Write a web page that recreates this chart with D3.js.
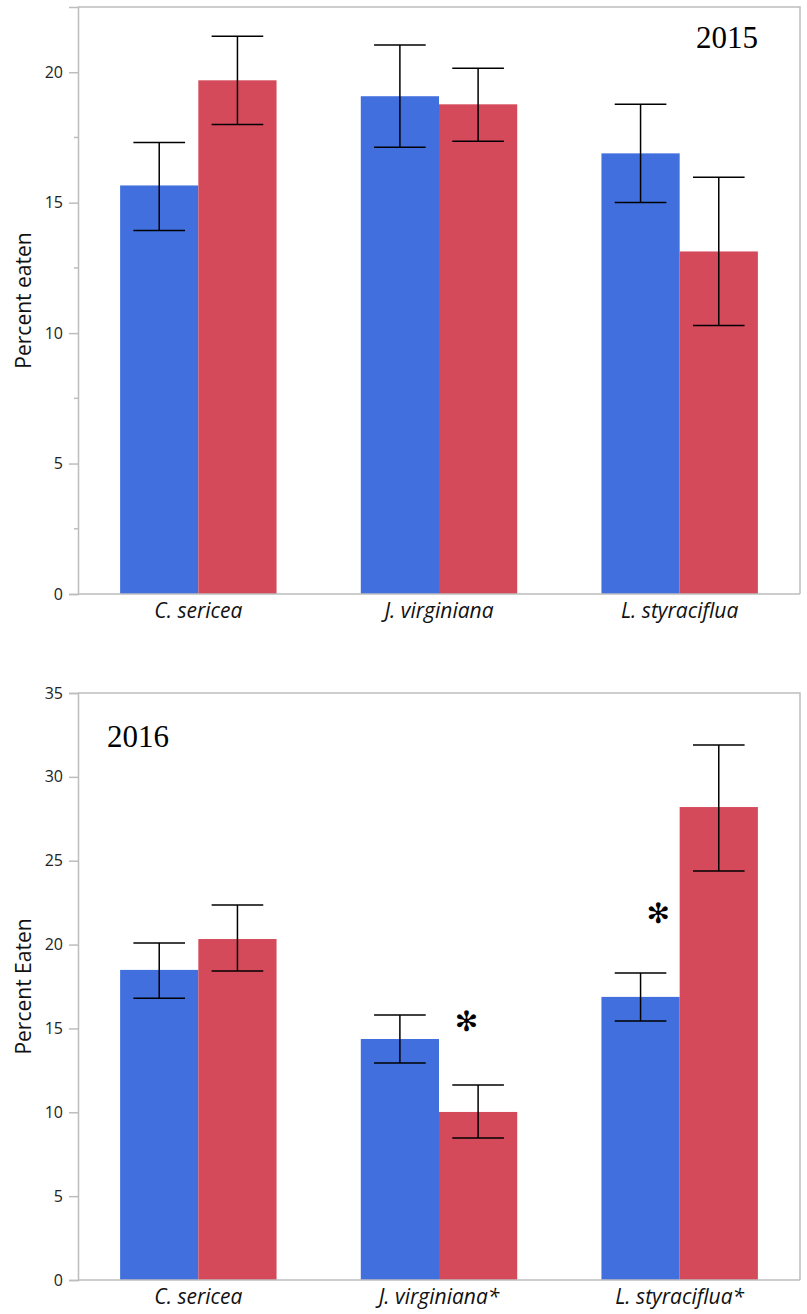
<!DOCTYPE html>
<html>
<head>
<meta charset="utf-8">
<script src="https://cdn.jsdelivr.net/npm/d3@7/dist/d3.min.js"></script>
<style>
  body { margin: 0; background: #fff; }
  svg { display: block; }
</style>
</head>
<body>
<svg width="807" height="1314"></svg>
<script>
// 2015 panel
var cats2015 = ["C. sericea", "J. virginiana", "L. styraciflua"];
var blue2015 = [15.66, 19.08, 16.89];
var blue2015Lo = [13.93, 17.12, 15.01];
var blue2015Hi = [17.31, 21.04, 18.77];
var red2015 = [19.69, 18.77, 13.13];
var red2015Lo = [18.0, 17.35, 10.29];
var red2015Hi = [21.38, 20.15, 15.97];
var ticks2015 = [0, 5, 10, 15, 20];
var minor2015 = [2.5, 7.5, 12.5, 17.5];

// 2016 panel
var cats2016 = ["C. sericea", "J. virginiana*", "L. styraciflua*"];
var blue2016 = [18.49, 14.37, 16.88];
var blue2016Lo = [16.8, 12.94, 15.44];
var blue2016Hi = [20.1, 15.8, 18.31];
var red2016 = [20.33, 10.02, 28.2];
var red2016Lo = [18.43, 8.47, 24.39];
var red2016Hi = [22.36, 11.63, 31.9];
var ticks2016 = [0, 5, 10, 15, 20, 25, 30, 35];
// significance marks: category, height, position inside the group
var stars2016 = [
  {cat: "J. virginiana*", value: 15.4, at: 0.675},
  {cat: "L. styraciflua*", value: 21.8, at: 0.363}
];

var blue = "#4170de";
var red = "#d44a5a";
var sans = "'Open Sans', 'Noto Sans', sans-serif";

var svg = d3.select("svg");

var drawPanel = function(p) {
  var g = svg.append("g");
  var x = d3.scaleBand().domain(p.cats).range([p.left, p.right])
    .paddingInner(0.35).paddingOuter(0.175);
  var y = d3.scaleLinear().domain([0, p.max]).range([p.bottom, p.top]);
  var bw = x.bandwidth() / 2;

  var rows = p.cats.map(function(c, i) {
    return [
      {cat: c, k: 0, v: p.blue[i], lo: p.blueLo[i], hi: p.blueHi[i], col: blue},
      {cat: c, k: 1, v: p.red[i], lo: p.redLo[i], hi: p.redHi[i], col: red}
    ];
  });
  var bars = d3.merge(rows);

  // frame
  g.append("path")
    .attr("d", "M" + p.left + "," + p.top + "H" + p.right + "V" + p.bottom)
    .attr("fill", "none").attr("stroke", "#bdbdbd").attr("stroke-width", 1.5);

  g.selectAll("rect.bar")
    .data(bars)
    .enter()
    .append("rect")
    .attr("class", "bar")
    .attr("x", function(d) { return x(d.cat) + d.k * bw; })
    .attr("y", function(d) { return y(d.v); })
    .attr("width", bw)
    .attr("height", function(d) { return y(0) - y(d.v); })
    .attr("fill", function(d) { return d.col; });

  // error bars
  var cap = bw * 0.33;
  var eb = g.selectAll("g.err").data(bars).enter().append("g")
    .attr("class", "err")
    .attr("stroke", "#000").attr("stroke-width", 1.5);
  eb.append("line")
    .attr("x1", function(d) { return x(d.cat) + d.k * bw + bw / 2; })
    .attr("x2", function(d) { return x(d.cat) + d.k * bw + bw / 2; })
    .attr("y1", function(d) { return y(d.lo); })
    .attr("y2", function(d) { return y(d.hi); });
  ["lo", "hi"].forEach(function(key) {
    eb.append("line")
      .attr("x1", function(d) { return x(d.cat) + d.k * bw + bw / 2 - cap; })
      .attr("x2", function(d) { return x(d.cat) + d.k * bw + bw / 2 + cap; })
      .attr("y1", function(d) { return y(d[key]); })
      .attr("y2", function(d) { return y(d[key]); });
  });

  // y axis
  var ya = g.append("g")
    .attr("transform", "translate(" + p.left + ",0)")
    .call(d3.axisLeft(y).tickValues(p.ticks).tickSize(9).tickPadding(6).tickFormat(d3.format("d")));
  ya.select(".domain").attr("stroke", "#bdbdbd").attr("stroke-width", 1.5);
  ya.selectAll(".tick line").attr("stroke", "#bdbdbd").attr("stroke-width", 1.5);
  ya.selectAll(".tick text")
    .attr("fill", "#222")
    .style("font-family", sans)
    .style("font-size", "16px");
  if (p.minor) {
    g.selectAll("line.minor").data(p.minor).enter().append("line")
      .attr("class", "minor")
      .attr("x1", p.left - 4).attr("x2", p.left)
      .attr("y1", function(d) { return y(d); })
      .attr("y2", function(d) { return y(d); })
      .attr("stroke", "#bdbdbd").attr("stroke-width", 1.5);
  }

  // x axis
  var xa = g.append("g")
    .attr("transform", "translate(0," + p.bottom + ")")
    .call(d3.axisBottom(x).tickSize(0).tickPadding(9));
  xa.select(".domain").attr("stroke", "#bdbdbd").attr("stroke-width", 1.5)
    .attr("d", "M" + p.left + ",0H" + p.right);
  xa.selectAll(".tick text")
    .attr("fill", "#111")
    .style("font-family", sans)
    .style("font-style", "italic")
    .style("font-size", "21px");

  // y title
  g.append("text")
    .attr("transform", "translate(31," + ((p.top + p.bottom) / 2) + ") rotate(-90)")
    .attr("text-anchor", "middle")
    .style("font-family", sans)
    .style("font-size", "21px")
    .attr("fill", "#111")
    .text(p.title);

  // year label
  g.append("text")
    .attr("x", p.yearX).attr("y", p.yearY)
    .attr("text-anchor", p.yearAnchor)
    .style("font-family", "'Liberation Serif', 'Times New Roman', serif")
    .style("font-size", "31px")
    .attr("fill", "#000")
    .text(p.year);

  if (p.stars) {
    g.selectAll("text.star").data(p.stars).enter().append("text")
      .attr("class", "star")
      .attr("x", function(d) { return x(d.cat) + d.at * x.bandwidth(); })
      .attr("y", function(d) { return y(d.value) + 9; })
      .attr("text-anchor", "middle")
      .style("font-family", "'DejaVu Sans', sans-serif")
      .style("font-weight", "bold")
      .style("font-size", "28px")
      .attr("fill", "#000")
      .text("\u273B");
  }
};

drawPanel({
  cats: cats2015, blue: blue2015, blueLo: blue2015Lo, blueHi: blue2015Hi,
  red: red2015, redLo: red2015Lo, redHi: red2015Hi,
  ticks: ticks2015, minor: minor2015, max: 22.5,
  left: 78, right: 800, top: 7, bottom: 594,
  title: "Percent eaten", year: "2015", yearX: 758, yearY: 48, yearAnchor: "end"
});

drawPanel({
  cats: cats2016, blue: blue2016, blueLo: blue2016Lo, blueHi: blue2016Hi,
  red: red2016, redLo: red2016Lo, redHi: red2016Hi,
  ticks: ticks2016, max: 35, stars: stars2016,
  left: 78, right: 800, top: 693, bottom: 1280,
  title: "Percent Eaten", year: "2016", yearX: 107, yearY: 747, yearAnchor: "start"
});
</script>
</body>
</html>
